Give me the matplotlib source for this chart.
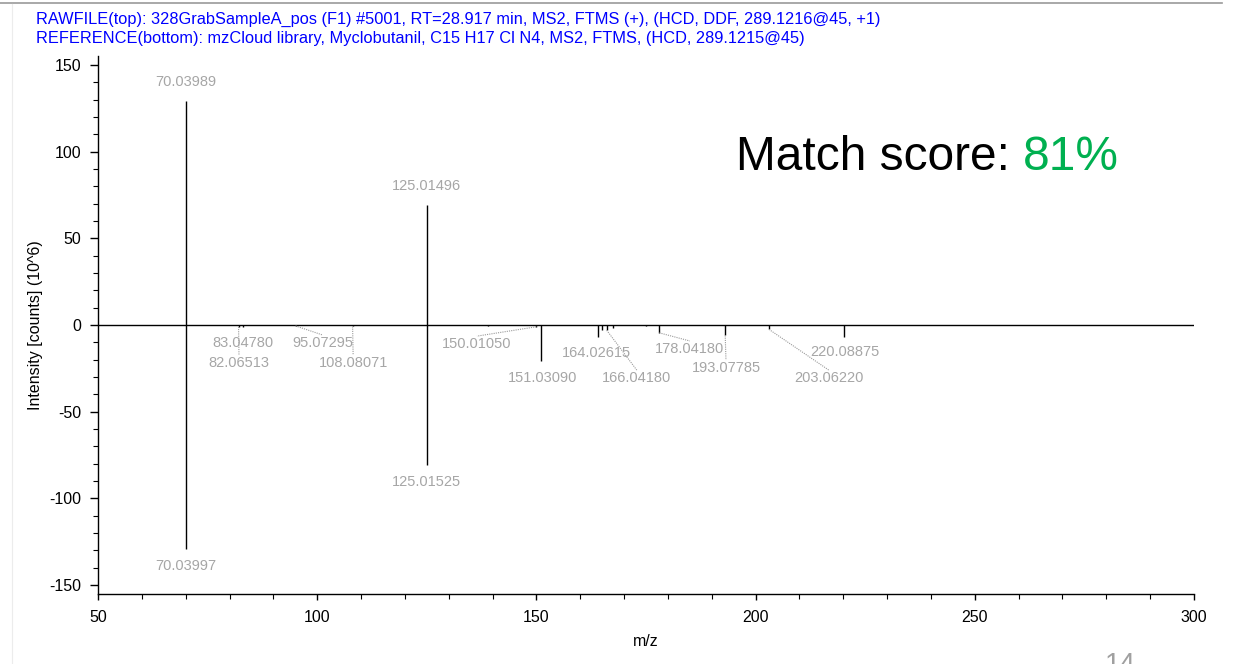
import matplotlib
matplotlib.use('Agg')
import matplotlib.pyplot as plt
from matplotlib.ticker import MultipleLocator

plt.rcParams['font.family'] = ['Liberation Sans', 'DejaVu Sans']
plt.rcParams['axes.unicode_minus'] = False

# sample spectrum (top, positive) and library spectrum (bottom, negative)
sample_mz = [70.03989, 125.01496]
sample_int = [129.0, 69.0]

ref_mz = [70.03997, 82.06513, 83.04780, 95.07295, 108.08071, 125.01525,
          139.0, 150.01050, 151.03090, 164.02615, 165.0, 166.04180, 167.5,
          175.0, 178.04180, 193.07785, 203.06220, 220.08875]
ref_int = [-129.0, -1.0, -1.2, -0.5, -0.8, -81.0,
           -0.6, -1.0, -21.0, -7.0, -3.0, -3.0, -1.5,
           -0.8, -4.5, -6.0, -2.5, -7.0]

# labelled peaks and where their labels sit
sample_labels = [(70.03989, 129.0), (125.01496, 69.0)]
sample_label_pos = [(70.04, 140.0), (125.01, 80.0)]

ref_labels = [70.03997, 125.01525, 83.04780, 82.06513, 95.07295, 108.08071,
              150.01050, 151.03090, 164.02615, 166.04180, 178.04180,
              193.07785, 203.06220, 220.08875]
ref_label_pos = [(70.04, -139.0), (125.02, -90.6), (83.07, -10.4), (82.16, -21.9),
                 (101.3, -10.4), (108.2, -21.9), (136.45, -11.0), (151.3, -30.6),
                 (163.8, -16.2), (172.9, -30.6), (185.0, -13.8), (193.25, -24.8),
                 (216.7, -30.6), (220.4, -15.6)]
leaders = [82.06513, 95.07295, 108.08071, 150.01050, 166.04180,
           178.04180, 193.07785, 203.06220]

label_grey = '#a6a6a6'

fig = plt.figure(figsize=(12.42, 6.64), dpi=100)
ax = fig.add_axes([0.0789, 0.106, 0.8824, 0.809])

ax.vlines(sample_mz, 0, sample_int, color='black', lw=1.0)
ax.vlines(ref_mz, 0, ref_int, color='black', lw=1.0)
ax.axhline(0, color='black', lw=1.0)

for (mz, val), (tx, ty) in zip(sample_labels, sample_label_pos):
    ax.text(tx, ty, '%.5f' % mz, color=label_grey, fontsize=10.5,
            ha='center', va='center')

ref_lookup = dict(zip(ref_mz, ref_int))
for mz, (tx, ty) in zip(ref_labels, ref_label_pos):
    ax.text(tx, ty, '%.5f' % mz, color=label_grey, fontsize=10.5,
            ha='center', va='center')
    if mz in leaders:
        ax.plot([mz, tx], [ref_lookup[mz], ty + 4.6], color='#9a9a9a',
                lw=0.8, ls=(0, (1, 1)))

ax.set_xlim(50, 300)
ax.set_ylim(-155, 155)
ax.xaxis.set_major_locator(MultipleLocator(50))
ax.xaxis.set_minor_locator(MultipleLocator(10))
ax.yaxis.set_major_locator(MultipleLocator(50))
ax.yaxis.set_minor_locator(MultipleLocator(10))
ax.tick_params(axis='both', which='major', labelsize=11.5, width=1.0,
               direction='out')
ax.tick_params(axis='y', which='major', length=6, pad=6)
ax.tick_params(axis='y', which='minor', length=3.5, width=0.8)
ax.tick_params(axis='x', which='major', length=4, pad=8)
ax.tick_params(axis='x', which='minor', length=3.5, width=0.8)
for side in ['top', 'right']:
    ax.spines[side].set_visible(False)
ax.spines['left'].set_linewidth(1.0)
ax.spines['bottom'].set_linewidth(1.0)

ax.set_xlabel('m/z', fontsize=11.5, labelpad=6)
ax.set_ylabel('Intensity [counts] (10^6)', fontsize=11.5)
ax.yaxis.set_label_coords(-0.05, 0.5)

fig.text(36 / 1242, 1 - 19 / 664,
         'RAWFILE(top): 328GrabSampleA_pos (F1) #5001, RT=28.917 min, MS2, FTMS (+), (HCD, DDF, 289.1216@45, +1)',
         color='#0000ff', fontsize=11.8, ha='left', va='center')
fig.text(36 / 1242, 1 - 38 / 664,
         'REFERENCE(bottom): mzCloud library, Myclobutanil, C15 H17 Cl N4, MS2, FTMS, (HCD, 289.1215@45)',
         color='#0000ff', fontsize=11.8, ha='left', va='center')

score = fig.text(736 / 1242, 1 - 158 / 664, 'Match score: ', color='black',
                 fontsize=34.5, ha='left', va='center')
fig.canvas.draw()
bb = score.get_window_extent()
fig.text(bb.x1 / 1242, 1 - 158 / 664, '81%', color='#00b050',
         fontsize=34.5, ha='left', va='center')

# slide frame bits
fig.add_artist(plt.Line2D([0, 1222 / 1242], [1 - 3 / 664, 1 - 3 / 664],
                          color='#999999', lw=1.2))
fig.add_artist(plt.Line2D([12 / 1242, 12 / 1242], [0, 1 - 4 / 664],
                          color='#ececec', lw=0.8))
fig.text(1120 / 1242, 1 - 652 / 664, '14', color='#a0a0a0', fontsize=20,
         ha='center', va='top')

fig.savefig('out.png', dpi=100)
plt.close()
